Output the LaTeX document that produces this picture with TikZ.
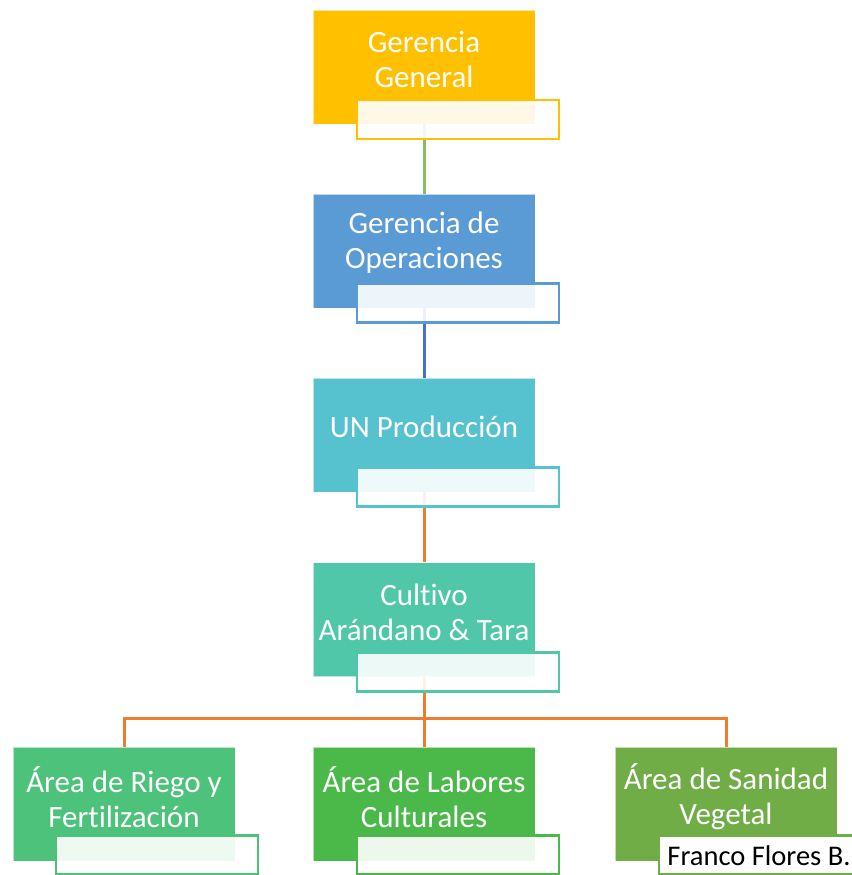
\documentclass[tikz,border=0pt]{standalone}
\usepackage{fontspec}
\setmainfont{Carlito}[Ligatures=NoCommon]
\definecolor{cGold}{HTML}{FFC000}
\definecolor{cBlue}{HTML}{5B9BD5}
\definecolor{cTeal}{HTML}{56C2D0}
\definecolor{cMint}{HTML}{50C7A8}
\definecolor{cGreenA}{HTML}{4CC27A}
\definecolor{cGreenB}{HTML}{4BB94A}
\definecolor{cGreenC}{HTML}{70AD47}
\definecolor{lnGreen}{HTML}{86BD62}
\definecolor{lnBlue}{HTML}{4472C4}
\definecolor{lnOrange}{HTML}{ED7D31}
\tikzset{
  mainbox/.style={draw=white, draw opacity=0.6, line width=0.8pt, fill=#1, minimum width=222pt, minimum height=114pt, inner sep=0pt},
  subbox/.style={draw=#1, line width=2.4pt, fill=white, fill opacity=0.9, draw opacity=1, minimum width=202pt, minimum height=39pt, inner sep=0pt},
  boxtext/.style={text=white, align=center, font=\fontsize{31}{35}\selectfont, inner sep=0pt},
  conn/.style={draw=#1, line width=3pt},
}
\begin{document}
\begin{tikzpicture}[x=1pt,y=-1pt]
\useasboundingbox (0,0) rectangle (851,875);
% main boxes
\node[mainbox=cGold] (gg) at (424,67) {};
\node[mainbox=cBlue] (go) at (424,251) {};
\node[mainbox=cTeal] (up) at (424,435) {};
\node[mainbox=cMint] (cu) at (424,619.5) {};
\node[mainbox=cGreenA] (a1) at (124,804) {};
\node[mainbox=cGreenB] (a2) at (424,804) {};
\node[mainbox=cGreenC] (a3) at (726,804) {};
% connectors
\coordinate (bus) at (424,718);
\draw[conn=lnGreen] (gg.south) -- (go.north);
\draw[conn=lnBlue] (go.south) -- (up.north);
\draw[conn=lnOrange] (up.south) -- (cu.north);
\draw[conn=lnOrange] (cu.south) -- (bus);
\draw[conn=lnOrange] (a1.north) |- (bus) -| (a3.north);
\draw[conn=lnOrange] (bus) -- (a2.north);
% texts
\node[boxtext] (ggt) at (424,59) {Gerencia\\General};
\node[boxtext] (got) at (424,243) {Gerencia de\\Operaciones};
\node[boxtext] (upt) at (424,427) {UN Producción};
\node[boxtext] (cut) at (424,612) {Cultivo\\Arándano \& Tara};
\node[boxtext] (a1t) at (124,797) {Área de Riego y\\Fertilización};
\node[boxtext] (a2t) at (424,797) {Área de Labores\\Culturales};
\node[boxtext] (a3t) at (726,797) {Área de Sanidad\\Vegetal};
% sub boxes
\node[subbox=cGold] (ggs) at (458,119.5) {};
\node[subbox=cBlue] (gos) at (458,303) {};
\node[subbox=cTeal] (ups) at (458,487) {};
\node[subbox=cMint] (cus) at (458,672) {};
\node[subbox=cGreenA] (a1s) at (157,855) {};
\node[subbox=cGreenB] (a2s) at (458,855) {};
\node[subbox=cGreenC, fill opacity=1] (a3s) at (760,855) {};
\node[text=black, font=\fontsize{28.5}{30}\selectfont, inner sep=0pt, anchor=base] (fr) at (759,865) {Franco Flores B.};
\end{tikzpicture}
\end{document}
